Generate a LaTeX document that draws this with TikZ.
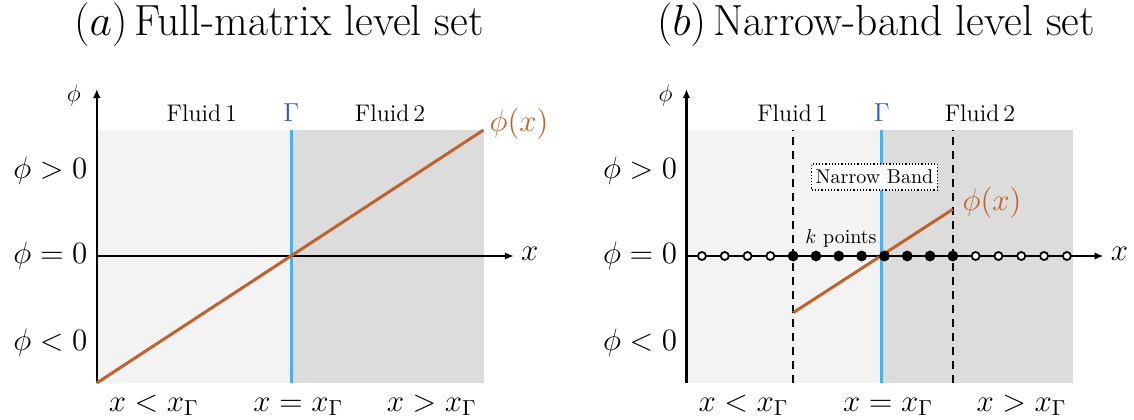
\RequirePackage{fix-cm}
\documentclass[tikz,border=0pt]{standalone}
\usetikzlibrary{arrows.meta}

\definecolor{lightfluid}{HTML}{F3F3F3}
\definecolor{darkfluid}{HTML}{DCDCDC}
\definecolor{ifaceblue}{RGB}{77,175,232}
\definecolor{gammablue}{RGB}{45,95,170}
\definecolor{phiorange}{RGB}{192,98,43}

\begin{document}
\begin{tikzpicture}[x=0.5pt, y=0.5pt,
    axis/.style={line width=1.1pt, -{Latex[length=4.5pt, width=3.8pt]}},
    iface/.style={ifaceblue, line width=1.5pt},
    philine/.style={phiorange, line width=1.5pt},
    bandedge/.style={line width=0.8pt, dash pattern=on 4pt off 3pt},
    biglbl/.style={font=\fontsize{15.5}{18}\selectfont},
    fluidlbl/.style={font=\fontsize{12}{14}\selectfont},
    titlelbl/.style={font=\fontsize{21.8}{26}\selectfont},
    openpt/.style={circle, draw, line width=0.9pt, fill=white, inner sep=0pt, minimum size=4pt},
    fullpt/.style={circle, fill, inner sep=0pt, minimum size=5.4pt}]

    \useasboundingbox (0,0) rectangle (1134,419);

    % Titles
    \node[titlelbl] (titleA) at (279,394) {$(a)$\,Full-matrix level set};
    \node[titlelbl] (titleB) at (876,394) {$(b)$\,Narrow-band level set};

    % (a) full-matrix panel
    \begin{scope}[shift={(96.8,163)}]
        % Fluid regions
        \fill[lightfluid] (0,-127) rectangle (194.5,126);
        \fill[darkfluid] (194.5,-127) rectangle (386.7,126);

        % Interface
        \draw[iface] (194.5,-127) -- (194.5,126);

        % Axes
        \draw[axis] (0,-127) -- (0,167);
        \draw[axis] (0,0) -- (417,0);

        % Level set function
        \draw[philine] (0,-127) -- (386.7,126);

        % Labels
        \node[fluidlbl] (phiA) at (-23,161) {$\phi$};
        \node[biglbl] (xA) at (433,2) {$x$};
        \node[fluidlbl] (fluidA1) at (105,143) {Fluid\,1};
        \node[fluidlbl] (fluidA2) at (293.3,143) {Fluid\,2};
        \node[fluidlbl, font=\fontsize{13}{15}\selectfont, text=gammablue] (gammaA) at (194.5,143) {$\Gamma$};
        \node[biglbl, text=phiorange] (curveA) at (422.2,132) {$\phi(x)$};
        \node[biglbl, anchor=east, inner sep=0pt] (posA) at (-9,85.5) {$\phi > 0$};
        \node[biglbl, anchor=east, inner sep=0pt] (zeroA) at (-9,0) {$\phi = 0$};
        \node[biglbl, anchor=east, inner sep=0pt] (negA) at (-9,-86.5) {$\phi < 0$};
        \node[biglbl, anchor=base] (leftA) at (57,-155) {$x < x_\Gamma$};
        \node[biglbl, anchor=base] (midA) at (201.5,-155) {$x = x_\Gamma$};
        \node[biglbl, anchor=base] (rightA) at (335,-155) {$x > x_\Gamma$};
    \end{scope}

    % (b) narrow-band panel
    \begin{scope}[shift={(686.5,163)}]
        % Fluid regions
        \fill[lightfluid] (0,-127) rectangle (195.3,126);
        \fill[darkfluid] (195.3,-127) rectangle (386.7,126);

        % Band edges
        \draw[bandedge] (106.7,-127) -- (106.7,126);
        \draw[bandedge] (266.3,-127) -- (266.3,126);

        % Interface
        \draw[iface] (195.3,-127) -- (195.3,126);

        % Axes
        \draw[axis] (0,-127) -- (0,167);
        \draw[axis] (0,0) -- (417,0);

        % Level set function, kept inside the band only
        \draw[philine] (106.7,-56.7) -- (266.3,46.7);

        % Grid points: open outside the band, filled inside
        \foreach \i in {0,1,2,3,12,13,14,15,16}
            \node[openpt] (pt\i) at ({197.9+22.81*(\i-8)},0) {};
        \foreach \i in {4,...,11}
            \node[fullpt] (pt\i) at ({197.9+22.81*(\i-8)},0) {};

        % Band label
        \node[draw, densely dotted, line width=0.6pt, fill=white,
              inner xsep=2pt, inner ysep=3pt] (band) at (188,79) {Narrow Band};
        \node (kpts) at (154.5,18) {$k$ points};

        % Labels
        \node[fluidlbl] (phiB) at (-21,161) {$\phi$};
        \node[biglbl] (xB) at (433,2) {$x$};
        \node[fluidlbl] (fluidB1) at (106,143) {Fluid\,1};
        \node[fluidlbl] (fluidB2) at (293.5,143) {Fluid\,2};
        \node[fluidlbl, font=\fontsize{13}{15}\selectfont, text=gammablue] (gammaB) at (195.3,143) {$\Gamma$};
        \node[biglbl, text=phiorange] (curveB) at (305.5,53) {$\phi(x)$};
        \node[biglbl, anchor=east, inner sep=0pt] (posB) at (-9,85.5) {$\phi > 0$};
        \node[biglbl, anchor=east, inner sep=0pt] (zeroB) at (-9,0) {$\phi = 0$};
        \node[biglbl, anchor=east, inner sep=0pt] (negB) at (-9,-86.5) {$\phi < 0$};
        \node[biglbl, anchor=base] (leftB) at (57,-155) {$x < x_\Gamma$};
        \node[biglbl, anchor=base] (midB) at (201.5,-155) {$x = x_\Gamma$};
        \node[biglbl, anchor=base] (rightB) at (335,-155) {$x > x_\Gamma$};
    \end{scope}

\end{tikzpicture}
\end{document}
